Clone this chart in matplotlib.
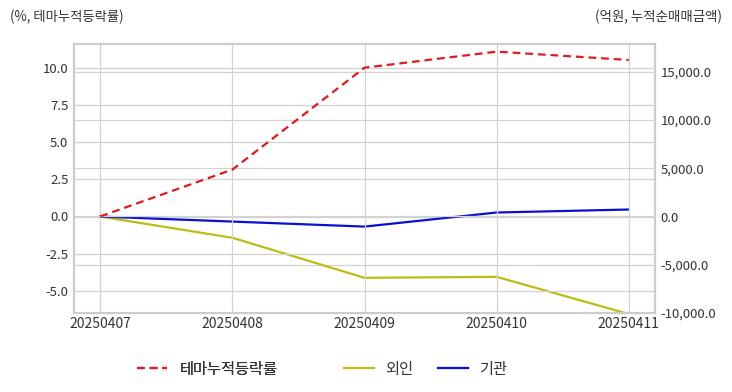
import matplotlib
matplotlib.use("Agg")
import matplotlib.pyplot as plt
from matplotlib.ticker import FuncFormatter

plt.rcParams['font.family'] = ['Noto Sans CJK KR', 'DejaVu Sans']

dates = ["20250407", "20250408", "20250409", "20250410", "20250411"]
theme_pct = [0.0, 3.15, 10.0, 11.08, 10.52]
foreign = [0.0, -2200, -6350, -6250, -10100]
institution = [0.0, -520, -1040, 420, 730]

text_color = "#333333"
grid_color = "#d3d3d3"

fig = plt.figure(figsize=(7.32, 3.92), dpi=100)
ax = fig.add_axes([0.101, 0.2015, 0.794, 0.6865])
ax2 = ax.twinx()

x = list(range(len(dates)))
l1, = ax.plot(x, theme_pct, color="#e31a1c", linestyle=(0, (3.5, 2.2)), linewidth=1.6, label="테마누적등락률")
l2, = ax2.plot(x, foreign, color="#bcbd10", linewidth=1.6, label="외인")
l3, = ax2.plot(x, institution, color="#0a10d0", linewidth=1.6, label="기관")

ax.set_xlim(-0.2, 4.2)
ax.set_ylim(-6.5, 11.6)
ax2.set_ylim(-10000, 17900)
ax.set_yticks([-5.0, -2.5, 0.0, 2.5, 5.0, 7.5, 10.0])
ax2.set_yticks([-10000, -5000, 0, 5000, 10000, 15000])
ax.yaxis.set_major_formatter(FuncFormatter(lambda v, p: f"{v:.1f}"))
ax2.yaxis.set_major_formatter(FuncFormatter(lambda v, p: f"{v:,.1f}"))
ax.set_xticks(x)
ax.set_xticklabels(dates)

for a in (ax, ax2):
    a.grid(True, color=grid_color, linewidth=0.9)
    a.set_axisbelow(True)
    a.tick_params(length=0, labelsize=9.5, colors=text_color, pad=4)
    for s in a.spines.values():
        s.set_color("#cccccc")
        s.set_linewidth(1.5)
ax2.grid(axis='x', visible=False)
ax.tick_params(axis='x', pad=3, labelsize=10)
ax.set_zorder(ax2.get_zorder() + 1)
ax.patch.set_visible(False)

fig.text(0.013, 0.958, "(%, 테마누적등락률)", fontsize=9.6, color=text_color, ha="left", va="center")
fig.text(0.987, 0.958, "(억원, 누적순매매금액)", fontsize=9.7, color=text_color, ha="right", va="center")

leg1 = fig.legend([l1], ["테마누적등락률"], loc="center", bbox_to_anchor=(0.283, 0.058),
                  frameon=False, fontsize=11, handlelength=2.0, handletextpad=0.8,
                  labelcolor=text_color)
leg2 = fig.legend([l2, l3], ["외인", "기관"], loc="center", bbox_to_anchor=(0.581, 0.058),
                  ncol=2, frameon=False, fontsize=11, handlelength=2.0, columnspacing=1.6,
                  handletextpad=0.7, labelcolor=text_color)
fig.add_artist(leg1)

fig.savefig("out.png", dpi=100)
